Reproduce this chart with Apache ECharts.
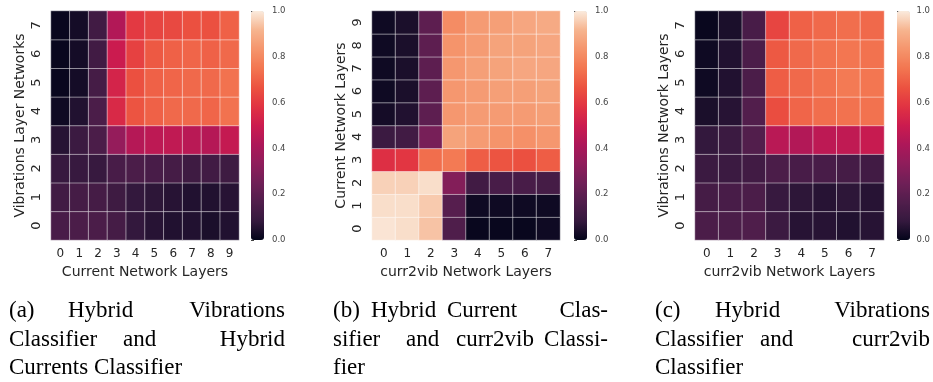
<!DOCTYPE html>
<html>
<head>
<meta charset="utf-8">
<script src="https://cdn.jsdelivr.net/npm/echarts@6/dist/echarts.min.js"></script>
<style>
  html, body { margin: 0; padding: 0; background: #fff; }
  #chartMain { width: 933px; height: 382px; }
</style>
</head>
<body>
<div id="chartMain"></div>
<script>
// tick labels
var layers10 = ['0', '1', '2', '3', '4', '5', '6', '7', '8', '9'];
var layers8 = ['0', '1', '2', '3', '4', '5', '6', '7'];

// (a) rows = vibrations layer 0..7 (bottom to top), cols = current layer 0..9
var vibVsCurr = [
  [0.14, 0.15, 0.15, 0.13, 0.08, 0.06, 0.05, 0.05, 0.04, 0.05],
  [0.12, 0.13, 0.13, 0.11, 0.08, 0.07, 0.06, 0.05, 0.05, 0.06],
  [0.09, 0.09, 0.09, 0.14, 0.15, 0.14, 0.13, 0.11, 0.12, 0.11],
  [0.06, 0.10, 0.15, 0.35, 0.44, 0.46, 0.47, 0.45, 0.44, 0.48],
  [0.02, 0.05, 0.15, 0.55, 0.67, 0.70, 0.72, 0.72, 0.71, 0.74],
  [0.01, 0.03, 0.13, 0.53, 0.66, 0.70, 0.71, 0.72, 0.72, 0.74],
  [0.01, 0.03, 0.12, 0.50, 0.62, 0.68, 0.70, 0.71, 0.70, 0.72],
  [0.01, 0.03, 0.12, 0.43, 0.60, 0.63, 0.64, 0.66, 0.66, 0.70]
];
// (b) rows = current layer 0..9, cols = curr2vib layer 0..7
var currVsC2v = [
  [0.99, 0.98, 0.94, 0.16, 0.01, 0.01, 0.01, 0.02],
  [0.98, 0.98, 0.95, 0.18, 0.02, 0.02, 0.02, 0.02],
  [0.96, 0.96, 0.98, 0.30, 0.12, 0.14, 0.14, 0.13],
  [0.57, 0.59, 0.73, 0.76, 0.69, 0.67, 0.66, 0.69],
  [0.10, 0.12, 0.27, 0.87, 0.85, 0.83, 0.82, 0.84],
  [0.03, 0.05, 0.20, 0.84, 0.85, 0.85, 0.85, 0.86],
  [0.02, 0.04, 0.20, 0.84, 0.85, 0.86, 0.86, 0.87],
  [0.02, 0.04, 0.20, 0.84, 0.86, 0.87, 0.88, 0.88],
  [0.02, 0.04, 0.20, 0.83, 0.85, 0.87, 0.87, 0.88],
  [0.02, 0.04, 0.20, 0.81, 0.85, 0.86, 0.88, 0.89]
];
// (c) rows = vibrations layer 0..7, cols = curr2vib layer 0..7
var vibVsC2v = [
  [0.15, 0.15, 0.16, 0.10, 0.06, 0.06, 0.05, 0.06],
  [0.13, 0.14, 0.15, 0.09, 0.07, 0.06, 0.07, 0.06],
  [0.10, 0.10, 0.12, 0.15, 0.14, 0.14, 0.13, 0.12],
  [0.08, 0.10, 0.17, 0.45, 0.43, 0.46, 0.47, 0.49],
  [0.04, 0.06, 0.17, 0.65, 0.71, 0.73, 0.74, 0.74],
  [0.02, 0.05, 0.15, 0.69, 0.72, 0.74, 0.76, 0.75],
  [0.02, 0.05, 0.15, 0.68, 0.72, 0.74, 0.75, 0.74],
  [0.01, 0.04, 0.14, 0.63, 0.70, 0.72, 0.73, 0.72]
];

// seaborn "rocket", sampled at k/12
var rocket = ['#03051a', '#35193e', '#511e4c', '#701f57', '#8f1d5b', '#ad1759', '#cb1b4f',
              '#e13342', '#ec5340', '#f37651', '#f5956c', '#f6b48f', '#faebdd'];

var panels = [
  { values: vibVsCurr, xTicks: layers10, yTicks: layers8,
    xName: 'Current Network Layers', yName: 'Vibrations Layer Networks',
    left: 51, width: 188, cbLeft: 251 },
  { values: currVsC2v, xTicks: layers8, yTicks: layers10,
    xName: 'curr2vib Network Layers', yName: 'Current Network Layers',
    left: 372, width: 188, cbLeft: 574 },
  { values: vibVsC2v, xTicks: layers8, yTicks: layers8,
    xName: 'curr2vib Network Layers', yName: 'Vibrations Network Layers',
    left: 695, width: 189, cbLeft: 897 }
];

// captions (justified lines are placed word by word)
var captionWords = [
  ['(a)', 9, 311, 'left'], ['Hybrid', 68, 311, 'left'], ['Vibrations', 285, 311, 'right'],
  ['Classifier', 9, 340, 'left'], ['and', 123, 340, 'left'], ['Hybrid', 285, 340, 'right'],
  ['Currents Classifier', 9, 368, 'left'],
  ['(b)', 333, 311, 'left'], ['Hybrid', 371, 311, 'left'], ['Current', 447, 311, 'left'],
  ['Clas-', 608, 311, 'right'],
  ['sifier', 333, 340, 'left'], ['and', 406, 340, 'left'], ['curr2vib', 456, 340, 'left'],
  ['Classi-', 608, 340, 'right'],
  ['fier', 333, 368, 'left'],
  ['(c)', 655, 311, 'left'], ['Hybrid', 715, 311, 'left'], ['Vibrations', 930, 311, 'right'],
  ['Classifier', 655, 340, 'left'], ['and', 760, 340, 'left'], ['curr2vib', 930, 340, 'right'],
  ['Classifier', 655, 368, 'left']
];

var TOP = 11, H = 229, CBW = 13;
var textColor = '#262626';

var grid = [], xAxis = [], yAxis = [], series = [], visualMap = [];

panels.forEach(function(p, i) {
  grid.push({ left: p.left, top: TOP, width: p.width, height: H });
  grid.push({ left: p.cbLeft, top: TOP, width: CBW, height: H });

  xAxis.push({
    type: 'category', gridIndex: 2 * i, data: p.xTicks,
    axisLine: { show: false }, axisTick: { show: false }, splitLine: { show: false },
    axisLabel: { fontSize: 12, color: textColor, margin: 8, fontFamily: 'DejaVu Sans' },
    name: p.xName, nameLocation: 'middle', nameGap: 23,
    nameTextStyle: { fontSize: 14, color: textColor, fontFamily: 'DejaVu Sans' }
  });
  xAxis.push({ type: 'value', gridIndex: 2 * i + 1, show: false, min: 0, max: 1 });

  yAxis.push({
    type: 'category', gridIndex: 2 * i, data: p.yTicks,
    axisLine: { show: false }, axisTick: { show: false }, splitLine: { show: false },
    axisLabel: { fontSize: 13, color: textColor, margin: 8, rotate: 90, fontFamily: 'DejaVu Sans' },
    name: p.yName, nameLocation: 'middle', nameGap: 24,
    nameTextStyle: { fontSize: 14, color: textColor, fontFamily: 'DejaVu Sans' }
  });
  yAxis.push({
    type: 'value', gridIndex: 2 * i + 1, position: 'right', min: 0, max: 1, interval: 0.2,
    axisLine: { show: false }, splitLine: { show: false },
    axisTick: { show: true, length: 3, lineStyle: { color: '#444' } },
    axisLabel: { fontSize: 8.5, color: '#444', margin: 8, fontFamily: 'DejaVu Sans',
                 formatter: function(v) { return v.toFixed(1); } }
  });

  var data = [];
  for (var r = 0; r < p.values.length; r++) {
    for (var c = 0; c < p.values[r].length; c++) {
      data.push([c, r, p.values[r][c]]);
    }
  }
  series.push({
    type: 'heatmap', xAxisIndex: 2 * i, yAxisIndex: 2 * i, data: data,
    itemStyle: { borderColor: 'rgba(255,255,255,0.6)', borderWidth: 0.8 },
    emphasis: { disabled: true }, silent: true
  });

  visualMap.push({
    type: 'continuous', seriesIndex: i, min: 0, max: 1, calculable: false, hoverLink: false,
    orient: 'vertical', left: p.cbLeft, top: TOP, itemWidth: CBW, itemHeight: H,
    padding: 0, inRange: { color: rocket }
  });
});

var graphic = captionWords.map(function(w) {
  return {
    type: 'text', x: w[1], y: w[2],
    style: { text: w[0], x: 0, y: 0, align: w[3], verticalAlign: 'middle',
             font: '23px "Liberation Serif"', fill: '#000' }
  };
});

var myChart = echarts.init(document.getElementById('chartMain'));
var option = {
  animation: false,
  backgroundColor: '#fff',
  grid: grid,
  xAxis: xAxis,
  yAxis: yAxis,
  visualMap: visualMap,
  series: series,
  graphic: graphic
};
myChart.setOption(option);
</script>
</body>
</html>
